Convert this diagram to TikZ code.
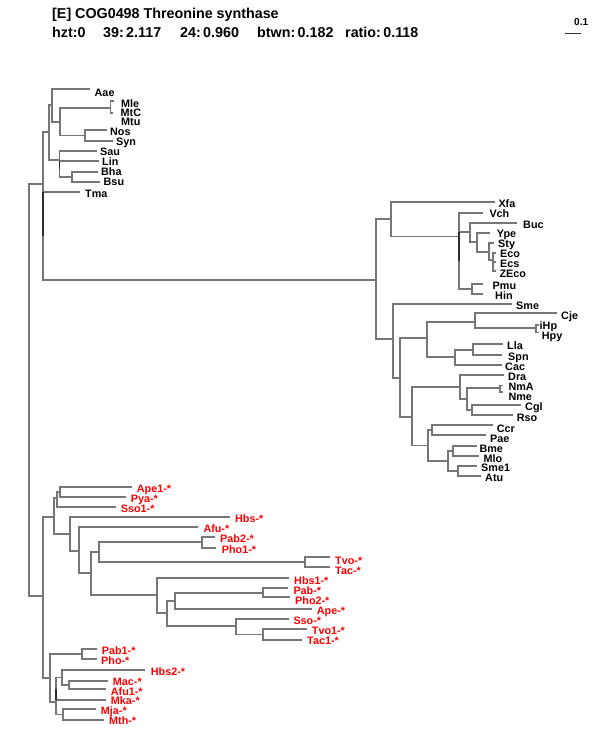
\documentclass[tikz,border=0pt]{standalone}
\usepackage{fontspec}
\setmainfont{Liberation Sans}
\definecolor{tg}{RGB}{118,118,118}
\definecolor{td}{RGB}{45,45,45}
\definecolor{lr}{RGB}{255,0,0}
\newcommand\br[5]{\draw[tree] (#3,#2) -- (#1,#2) -- (#1,#4) -- (#5,#4);}
\newcommand\hl[3]{\draw[tree] (#1,#2) -- (#3,#2);}
\newcommand\dk[3]{\draw[dark] (#1,#2) -- (#1,#3);}
\newcommand\lb[4]{\node[lbl] (#1) at (#2,#3+3.9) {#4};}
\newcommand\lbr[4]{\node[lbl,text=lr] (#1) at (#2,#3+3.9) {#4};}
\begin{document}
\begin{tikzpicture}[x=1pt,y=-1pt,
  tree/.style={draw=tg,line width=1.8pt,line join=miter},
  dark/.style={draw=td,line width=1.8pt},
  lbl/.style={anchor=base west,inner sep=0pt,font=\fontsize{10.8}{12}\selectfont\bfseries},
  hdr/.style={anchor=base west,inner sep=0pt,font=\fontsize{14.3}{16}\selectfont\bfseries}]
\useasboundingbox (0,0) rectangle (600,750);
% header
\node[hdr] (title) at (52,18.5) {[E] COG0498 Threonine synthase};
\node[hdr] (st1) at (52,37) {hzt:0};
\node[hdr] (st2) at (103,37) {39:\,2.117};
\node[hdr] (st3) at (180,37) {24:\,0.960};
\node[hdr] (st4) at (257,37) {btwn:\,0.182};
\node[hdr] (st5) at (345,37) {ratio:\,0.118};
\coordinate (sb1) at (565,33); \coordinate (sb2) at (581,33);
\draw[line width=0.9pt,black!80] (sb1) -- (sb2);
\node[anchor=base west,inner sep=0pt,font=\fontsize{10}{11}\selectfont\bfseries] (sbl) at (574,25.5) {0.1};
% root
\br{29.3}{184.3}{43.3}{596}{43.3}
% top clade
\br{43.3}{132}{49.3}{280}{376}
\hl{43.3}{191.7}{80}
\dk{43.3}{191.7}{235.8}
\br{49.3}{105}{52.3}{160}{59.5}
\br{52.3}{89.3}{90}{121.7}{60}
\br{60}{108}{110.5}{135.5}{85}
\br{110.5}{100.7}{114}{113}{113}
\br{85}{130}{106.7}{140.7}{112.7}
\br{59.5}{150.7}{96.7}{176.7}{71.7}
\hl{59.5}{161}{98.7}
\dk{59.5}{161}{168.8}
\br{71.7}{171.7}{97.7}{181.7}{100}
% right clade
\br{376}{219}{390.7}{339}{393.3}
\br{390.7}{201.7}{495}{236.5}{459.3}
\br{459.3}{212.7}{483.3}{289.3}{471.7}
\hl{459.3}{232.2}{470}
\dk{459.3}{232.2}{260.8}
\br{470}{222.7}{517}{241.7}{477.3}
\br{477.3}{232.7}{490}{251.7}{489.3}
\br{489.3}{243.3}{494}{260}{493.3}
\br{493.3}{253}{495.5}{271}{495.5}
\hl{493.3}{262}{495.5}
\br{471.7}{284.3}{483.3}{294.3}{483.3}
\br{393.3}{304.3}{511.7}{377.7}{400}
\br{400}{338.3}{426.7}{416.8}{411.7}
\br{426.7}{321.7}{475}{357.3}{455}
\br{475}{313.3}{557}{328.3}{536}
\br{536}{325}{538.5}{332.5}{538.5}
\br{455}{349.7}{473.3}{365}{502}
\br{473.3}{344.3}{503}{355}{502}
\br{411.7}{387.1}{460}{445.5}{428}
\br{460}{375}{504}{399.2}{466.7}
\br{466.7}{388.3}{500}{410}{471.7}
\br{500}{385.5}{502.5}{392}{502.5}
\br{471.7}{405}{521}{415}{513}
\br{428}{430}{432}{461}{448}
\br{432}{425}{493}{435}{486}
\br{448}{451}{453.3}{471}{458.3}
\br{453.3}{446}{476.7}{456}{479}
\br{458.3}{466}{477}{476}{481}
% bottom clade
\br{43.3}{516.7}{54.3}{677.8}{50}
\br{54.3}{498.3}{57}{534.3}{70}
\br{57}{491.7}{60}{506.7}{116}
\br{60}{486.7}{132}{496.7}{126}
\br{70}{516.7}{230}{551}{79.3}
\br{79.3}{526.7}{198}{573.3}{90.7}
\br{90.7}{552.3}{99.3}{595}{156.7}
\br{99.3}{542.2}{201.7}{562.3}{305}
\br{201.7}{536.7}{215}{547.7}{216}
\br{305}{557.3}{330}{567.3}{330}
\br{156.7}{577.7}{289}{613.3}{166.7}
\br{166.7}{601}{175}{626}{236}
\br{175}{592.7}{263.3}{609.3}{312}
\br{263.3}{588.3}{288}{597.3}{290}
\br{236}{619.3}{289}{634.5}{263.3}
\br{263.3}{629.3}{307}{639.7}{302}
\br{50}{654}{81.7}{701.7}{56}
\br{81.7}{649.3}{97}{659.3}{97}
\br{56}{677.5}{61.7}{700}{106}
\draw[tree] (56,688.8) -- (56,714.5) -- (63.3,714.5);
\dk{56}{688.8}{700}
\br{61.7}{670}{145}{685}{69.3}
\br{69.3}{680.7}{108}{689.3}{106}
\br{63.3}{709.3}{96}{720}{104}
% labels top
\lb{Aae}{94.5}{92.7}{Aae}
\lb{Mle}{121}{103.3}{Mle}
\lb{MtC}{120.5}{112.7}{MtC}
\lb{Mtu}{121}{122}{Mtu}
\lb{Nos}{110}{131.7}{Nos}
\lb{Syn}{116}{141.7}{Syn}
\lb{Sau}{100}{151.5}{Sau}
\lb{Lin}{102}{161.7}{Lin}
\lb{Bha}{101}{171.7}{Bha}
\lb{Bsu}{103.5}{182}{Bsu}
\lb{Tma}{85}{194}{Tma}
% labels right
\lb{Xfa}{498.3}{204}{Xfa}
\lb{Vch}{489.3}{214}{Vch}
\lb{Buc}{523}{225}{Buc}
\lb{Ype}{496.7}{233.8}{Ype}
\lb{Sty}{498}{243.5}{Sty}
\lb{Eco}{500}{253.4}{Eco}
\lb{Ecs}{500}{263.2}{Ecs}
\lb{ZEco}{499.3}{273.3}{ZEco}
\lb{Pmu}{492.5}{285.7}{Pmu}
\lb{Hin}{495}{295.5}{Hin}
\lb{Sme}{516}{306}{Sme}
\lb{Cje}{561}{315.7}{Cje}
\lb{iHp}{539.5}{325.8}{iHp}
\lb{Hpy}{541.7}{335.2}{Hpy}
\lb{Lla}{507}{345.7}{Lla}
\lb{Spn}{508}{356.7}{Spn}
\lb{Cac}{505}{366.7}{Cac}
\lb{Dra}{508}{376.7}{Dra}
\lb{NmA}{508.3}{386.7}{NmA}
\lb{Nme}{508.3}{396.7}{Nme}
\lb{Cgl}{525}{406.7}{Cgl}
\lb{Rso}{516.7}{417.7}{Rso}
\lb{Ccr}{496.7}{428.3}{Ccr}
\lb{Pae}{490}{438.3}{Pae}
\lb{Bme}{479.3}{448.3}{Bme}
\lb{Mlo}{483.3}{458.3}{Mlo}
\lb{Smea}{481}{467.7}{Sme1}
\lb{Atu}{485}{477.7}{Atu}
% labels bottom
\lbr{Apea}{136.7}{489}{Ape1-*}
\lbr{Pya}{130.7}{499}{Pya-*}
\lbr{Ssoa}{120.7}{508.3}{Sso1-*}
\lbr{Hbs}{235}{518.5}{Hbs-*}
\lbr{Afu}{203.3}{528.3}{Afu-*}
\lbr{Pabb}{220}{538.5}{Pab2-*}
\lbr{Phoa}{221.7}{549.3}{Pho1-*}
\lbr{Tvo}{335}{560.7}{Tvo-*}
\lbr{Tac}{335}{570.7}{Tac-*}
\lbr{Hbsa}{294}{580.7}{Hbs1-*}
\lbr{Pab}{293.3}{590.7}{Pab-*}
\lbr{Phob}{295}{600.7}{Pho2-*}
\lbr{Ape}{316.7}{610.7}{Ape-*}
\lbr{Sso}{293.3}{620.7}{Sso-*}
\lbr{Tvoa}{311.7}{630.7}{Tvo1-*}
\lbr{Taca}{307}{641}{Tac1-*}
\lbr{Paba}{101.7}{650.7}{Pab1-*}
\lbr{Pho}{101}{660.7}{Pho-*}
\lbr{Hbsb}{150.7}{672}{Hbs2-*}
\lbr{Mac}{112.7}{681.7}{Mac-*}
\lbr{Afua}{110.7}{691.7}{Afu1-*}
\lbr{Mka}{110.7}{701}{Mka-*}
\lbr{Mja}{100.7}{711}{Mja-*}
\lbr{Mth}{109}{721}{Mth-*}
\end{tikzpicture}
\end{document}
